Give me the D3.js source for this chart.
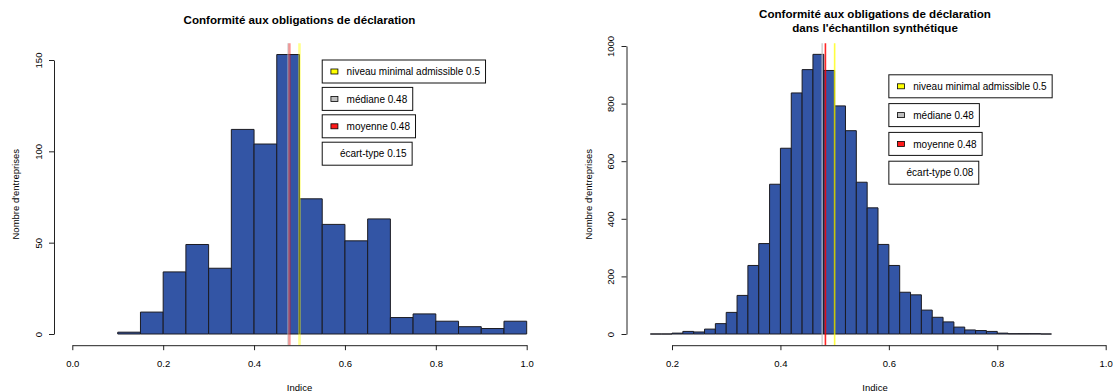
<!DOCTYPE html>
<html>
<head>
<meta charset="utf-8">
<script src="https://cdn.jsdelivr.net/npm/d3@7"></script>
<style>
  body { margin: 0; background: #fff; }
  svg { display: block; }
  text { font-family: "Liberation Sans", Arial, Helvetica, sans-serif; fill: #000; }
</style>
</head>
<body>
<svg id="chart" width="1114" height="392"></svg>
<script>
// ---- Observed sample: 0.05-wide bins of the compliance index ----
const obsBinStarts = [0.10, 0.15, 0.20, 0.25, 0.30, 0.35, 0.40, 0.45, 0.50,
                      0.55, 0.60, 0.65, 0.70, 0.75, 0.80, 0.85, 0.90, 0.95];
const obsCounts    = [1, 12, 34, 49, 36, 112, 104, 153, 74,
                      60, 51, 63, 9, 11, 7, 4, 3, 7];
const obsBinWidth  = 0.05;
const obsXTicks    = [0.0, 0.2, 0.4, 0.6, 0.8, 1.0];
const obsYTicks    = [0, 50, 100, 150];
const obsStats     = [0.5, 0.4755, 0.478, 0.15];   // seuil, médiane, moyenne, écart-type

// ---- Synthetic sample: 0.02-wide bins ----
const synBinStarts = [0.16, 0.18, 0.20, 0.22, 0.24, 0.26, 0.28, 0.30, 0.32, 0.34,
                      0.36, 0.38, 0.40, 0.42, 0.44, 0.46, 0.48, 0.50, 0.52, 0.54,
                      0.56, 0.58, 0.60, 0.62, 0.64, 0.66, 0.68, 0.70, 0.72, 0.74,
                      0.76, 0.78, 0.80, 0.82, 0.84, 0.86, 0.88];
const synCounts    = [0, 0, 3, 9, 7, 17, 36, 75, 134, 238,
                      314, 520, 645, 837, 918, 971, 915, 792, 706, 527,
                      438, 311, 238, 145, 136, 83, 58, 42, 24, 14,
                      12, 9, 3, 1, 1, 1, 0];
const synBinWidth  = 0.02;
const synXTicks    = [0.2, 0.4, 0.6, 0.8, 1.0];
const synYTicks    = [0, 200, 400, 600, 800, 1000];
const synStats     = [0.5, 0.477, 0.483, 0.08];

// ---- Legend entries (one boxed legend per statistic) ----
const legendNames  = ["niveau minimal admissible", "médiane", "moyenne", "écart-type"];
const legendFills  = ["#ffff00", "#bebebe", "#ff1a1a", null];
const lineColors   = ["#ffff00", "#bebebe", "#ff0000", null];

const titleObs = ["Conformité aux obligations de déclaration"];
const titleSyn = ["Conformité aux obligations de déclaration", "dans l'échantillon synthétique"];
const xLabel = "Indice";
const yLabel = "Nombre d'entreprises";

const fmtStat = v => String(+v.toFixed(2));
const fmtX = d3.format(".1f");
const fmtY = d3.format("d");

const svg = d3.select("#chart");

const panels = [
  {
    title: titleObs, titleY: [24],
    binStarts: obsBinStarts, counts: obsCounts, binWidth: obsBinWidth,
    xTicks: obsXTicks, yTicks: obsYTicks, stats: obsStats,
    x: d3.scaleLinear().domain([0, 1]).range([72.3, 526.7]),
    y: d3.scaleLinear().domain([0, 150]).range([334, 60]),
    plot: { left: 54, right: 545, top: 43.3, bottom: 345.2 },
    legendX: 0.55, legendY: [150, 135, 120, 105],
    lineWidth: 2.6, lineAlpha: [0.45, 0.5, 0.35]
  },
  {
    title: titleSyn, titleY: [18, 32],
    binStarts: synBinStarts, counts: synCounts, binWidth: synBinWidth,
    xTicks: synXTicks, yTicks: synYTicks, stats: synStats,
    x: d3.scaleLinear().domain([0.2, 1.0]).range([672, 1105.7]),
    y: d3.scaleLinear().domain([0, 1000]).range([334, 46]),
    plot: { left: 626.5, right: 1123.5, top: 43.3, bottom: 345.2 },
    legendX: 0.6, legendY: [900, 800, 700, 600],
    lineWidth: 1.6, lineAlpha: [0.75, 0.7, 0.85]
  }
];

panels.forEach(p => {
  const g = svg.append("g");
  const cx = (p.plot.left + p.plot.right) / 2;
  const cy = (p.plot.top + p.plot.bottom) / 2;

  // Title
  p.title.forEach((t, i) => {
    g.append("text")
      .attr("x", cx).attr("y", p.titleY[i])
      .attr("text-anchor", "middle")
      .style("font-size", "11.6px").style("font-weight", "bold")
      .text(t);
  });

  // Histogram bars (as paths so that empty bins still show their outline)
  const bins = p.binStarts.map((s, i) => ({ x0: s, x1: s + p.binWidth, n: p.counts[i] }));
  g.append("g").selectAll("path").data(bins).join("path")
    .attr("d", d => {
      const xa = p.x(d.x0), xb = p.x(d.x1), y0 = p.y(0), y1 = p.y(d.n);
      return `M${xa},${y0}V${y1}H${xb}V${y0}Z`;
    })
    .attr("fill", "#3355a5")
    .attr("stroke", "#1b1b22")
    .attr("stroke-width", 1);

  // Reference lines: médiane, moyenne, seuil
  const lines = [0, 1, 2].map(i => ({ v: p.stats[i], c: lineColors[i], a: p.lineAlpha[i] }));
  const order = [1, 2, 0];
  g.append("g").selectAll("line").data(order.map(i => lines[i])).join("line")
    .attr("x1", d => p.x(d.v)).attr("x2", d => p.x(d.v))
    .attr("y1", p.plot.top).attr("y2", p.plot.bottom)
    .attr("stroke", d => d.c)
    .attr("stroke-opacity", d => d.a)
    .attr("stroke-width", p.lineWidth);

  // X axis
  const xAxis = g.append("g")
    .attr("transform", `translate(0,${p.plot.bottom})`)
    .call(d3.axisBottom(p.x).tickValues(p.xTicks).tickFormat(fmtX)
      .tickSize(5).tickSizeOuter(0).tickPadding(10.5));
  xAxis.selectAll("path, line").attr("stroke", "#222");
  xAxis.selectAll("text").style("font-size", "9.5px").attr("fill", "#111")
    .style("font-family", "'Liberation Sans', Arial, sans-serif");

  // Y axis with labels rotated parallel to the axis
  const yAxis = g.append("g")
    .attr("transform", `translate(${p.plot.left},0)`)
    .call(d3.axisLeft(p.y).tickValues(p.yTicks).tickFormat(fmtY)
      .tickSize(5).tickSizeOuter(0));
  yAxis.selectAll("path, line").attr("stroke", "#222");
  yAxis.selectAll("text")
    .attr("x", 0).attr("dy", null).attr("y", -12.5)
    .attr("transform", "rotate(-90)")
    .attr("text-anchor", "middle")
    .attr("fill", "#111")
    .style("font-size", "9.5px")
    .style("font-family", "'Liberation Sans', Arial, sans-serif");

  // Axis titles
  g.append("text")
    .attr("x", cx).attr("y", 391)
    .attr("text-anchor", "middle")
    .style("font-size", "9.5px")
    .text(xLabel);
  g.append("text")
    .attr("transform", `translate(${p.plot.left - 35},${cy}) rotate(-90)`)
    .attr("text-anchor", "middle")
    .style("font-size", "9.5px")
    .text(yLabel);

  // Legends
  const boxH = 23;
  legendNames.forEach((name, i) => {
    const bx = p.x(p.legendX);
    const by = p.y(p.legendY[i]);
    const lg = g.append("g");
    const rect = lg.append("rect")
      .attr("x", bx).attr("y", by).attr("height", boxH)
      .attr("fill", "#fff").attr("stroke", "#111").attr("stroke-width", 1);
    const textX = legendFills[i] ? bx + 24.4 : bx + 17.7;
    const txt = lg.append("text")
      .attr("x", textX).attr("y", by + boxH / 2 + 3.6)
      .style("font-size", "10px")
      .text(`${name} ${fmtStat(p.stats[i])}`);
    if (legendFills[i]) {
      lg.append("rect")
        .attr("x", bx + 8.7).attr("y", by + boxH / 2 - 2.5)
        .attr("width", 7).attr("height", 5)
        .attr("fill", legendFills[i]).attr("stroke", "#000").attr("stroke-width", 0.8);
    }
    const w = textX - bx + txt.node().getComputedTextLength() + 5.5;
    rect.attr("width", w);
  });
});
</script>
</body>
</html>
